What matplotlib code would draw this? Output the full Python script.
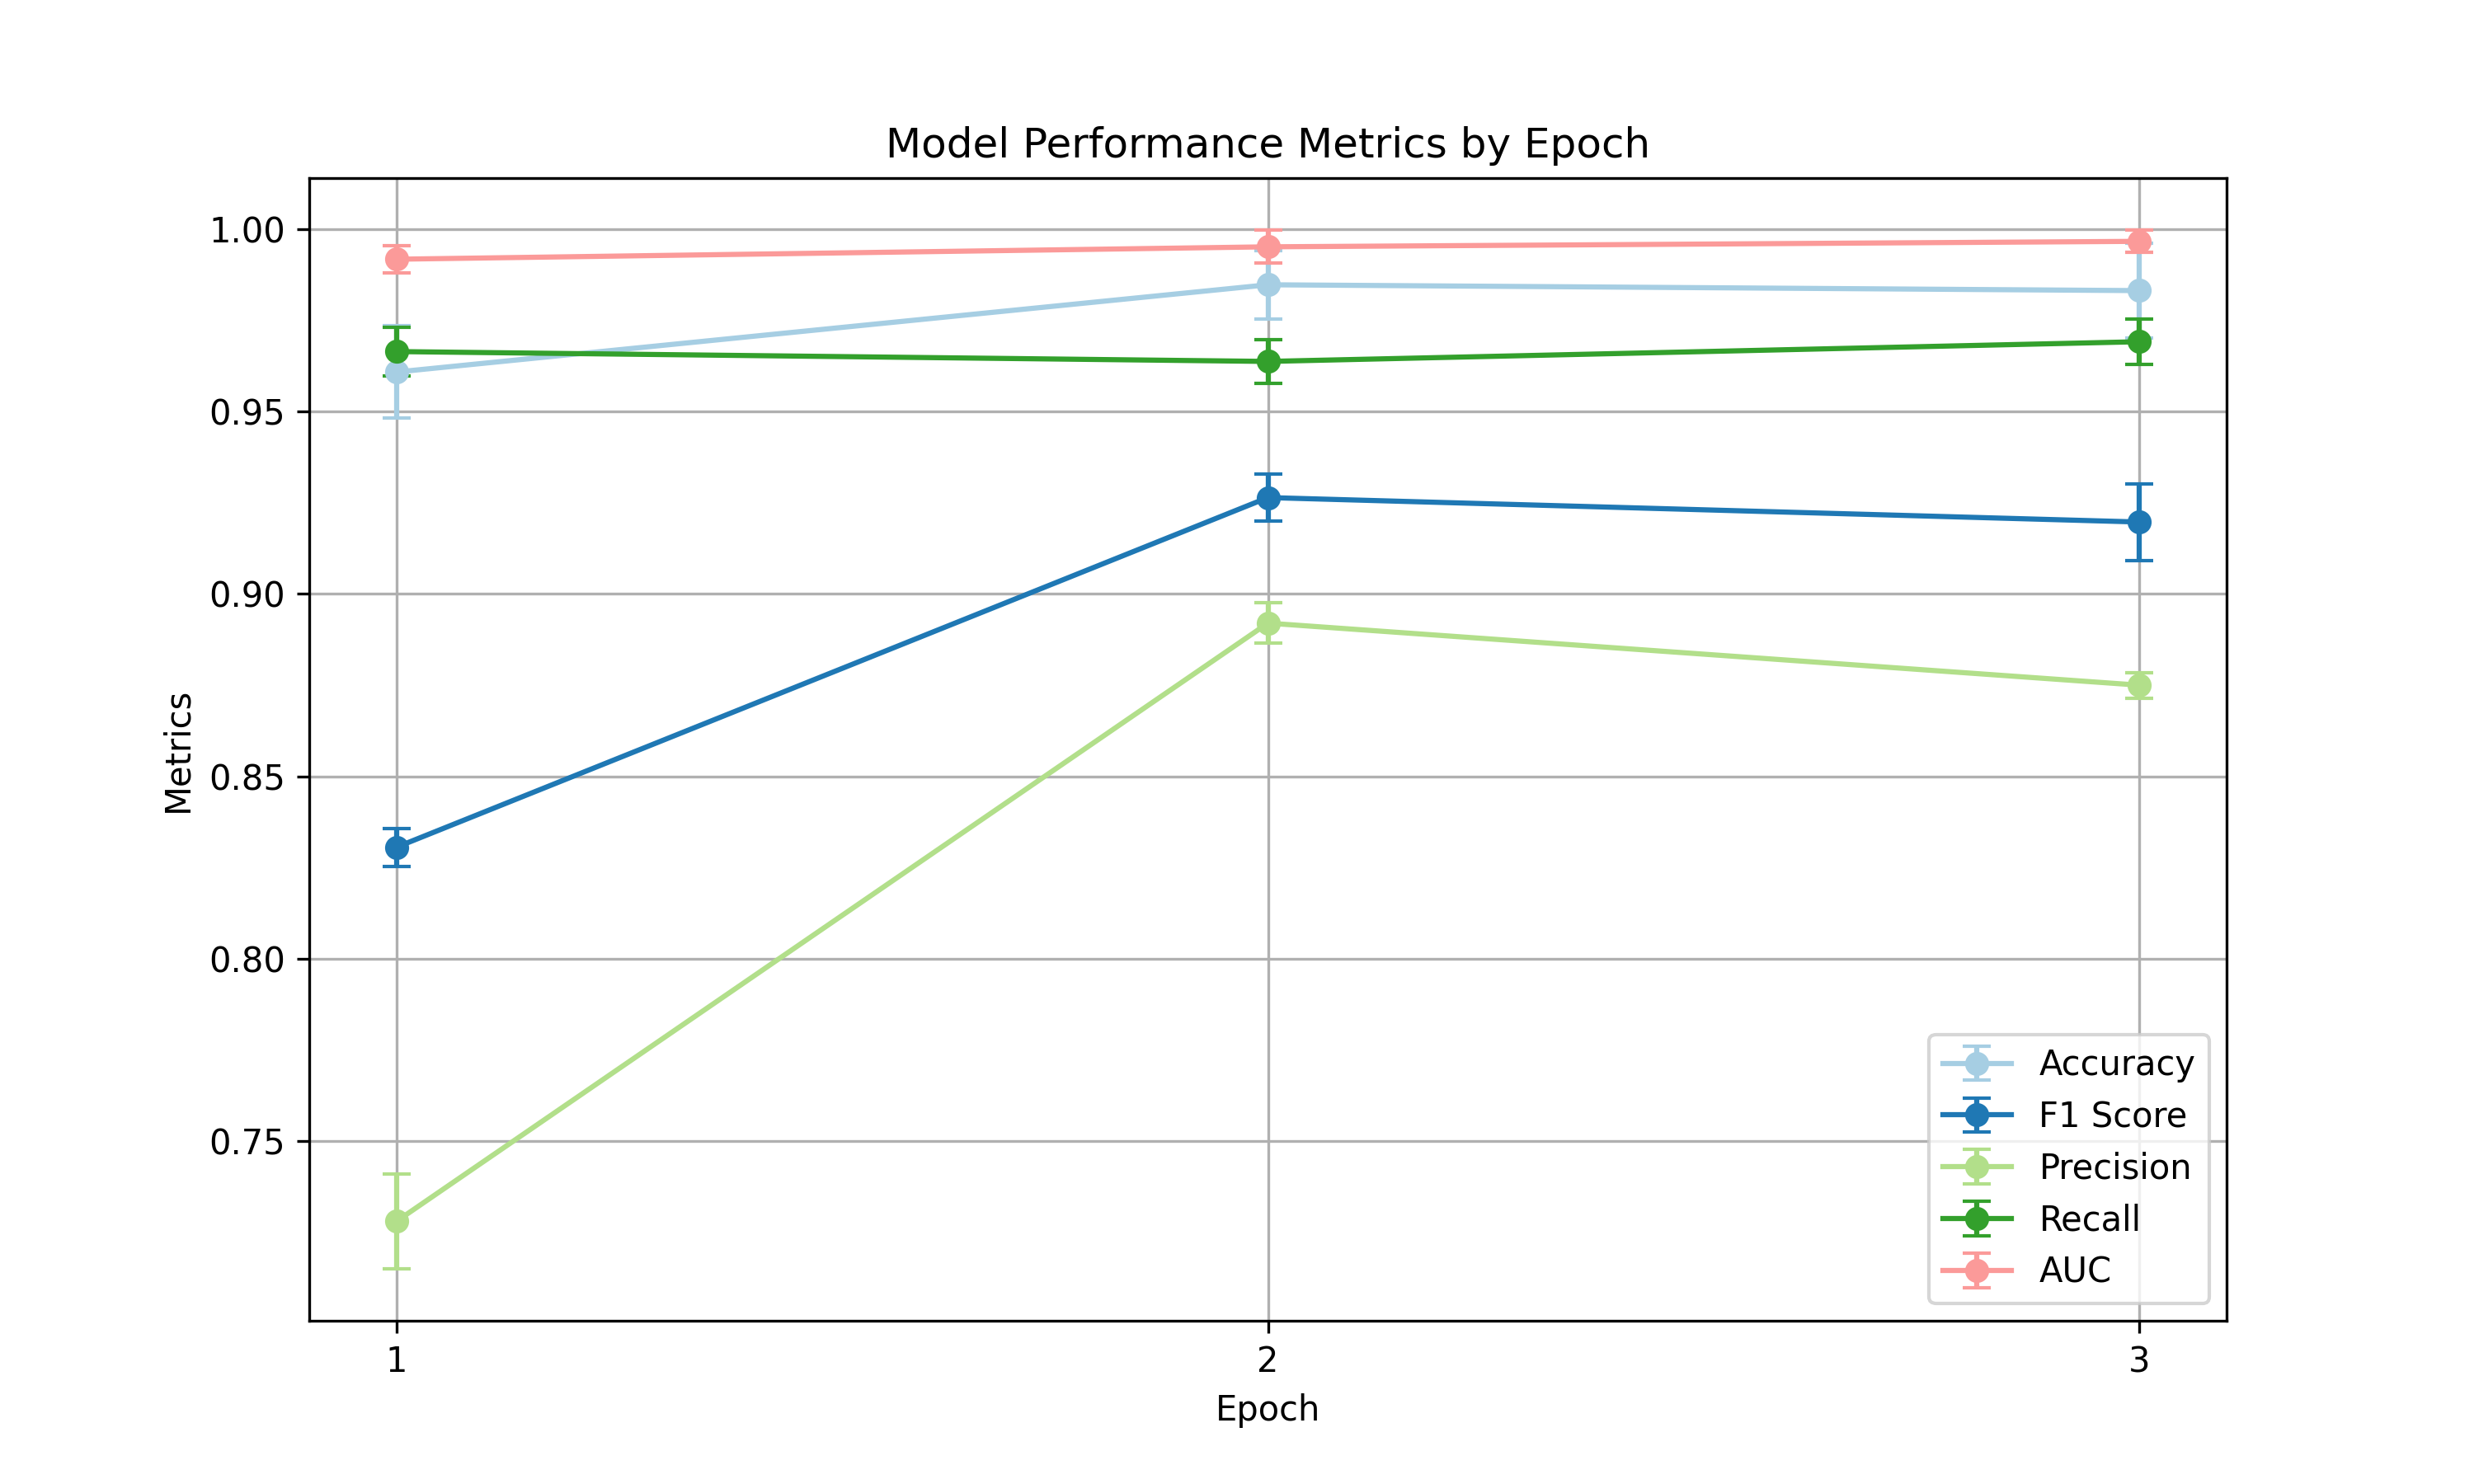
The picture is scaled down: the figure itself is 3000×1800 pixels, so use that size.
import numpy as np
import matplotlib
matplotlib.use("Agg")
import matplotlib.pyplot as plt

# values
epochs = [1, 2, 3]
metric_names = ['Accuracy', 'F1 Score', 'Precision', 'Recall', 'AUC']

accuracy = [0.9608, 0.9847, 0.9831]
accuracy_err = [0.0127, 0.0094, 0.0130]
f1_score = [0.8306, 0.9264, 0.9197]
f1_score_err = [0.0052, 0.0065, 0.0105]
precision = [0.7281, 0.8920, 0.8750]
precision_err = [0.0130, 0.0055, 0.0035]
recall = [0.9664, 0.9637, 0.9691]
recall_err = [0.0067, 0.0059, 0.0063]
auc = [0.9917, 0.9951, 0.9966]
auc_err = [0.0038, 0.0045, 0.0031]

means = [accuracy, f1_score, precision, recall, auc]
errs = [accuracy_err, f1_score_err, precision_err, recall_err, auc_err]

colors = plt.cm.Paired(np.arange(len(metric_names)))

fig, ax = plt.subplots(figsize=(10, 6))
for name, m, e, c in zip(metric_names, means, errs, colors):
    ax.errorbar(epochs, m, yerr=e, fmt='-o', capsize=4, color=c, label=name)

ax.set_title('Model Performance Metrics by Epoch')
ax.set_xlabel('Epoch')
ax.set_ylabel('Metrics')
ax.set_xticks(epochs)
ax.legend(loc='lower right')
ax.grid(True)
plt.savefig('out.png', dpi=300)
